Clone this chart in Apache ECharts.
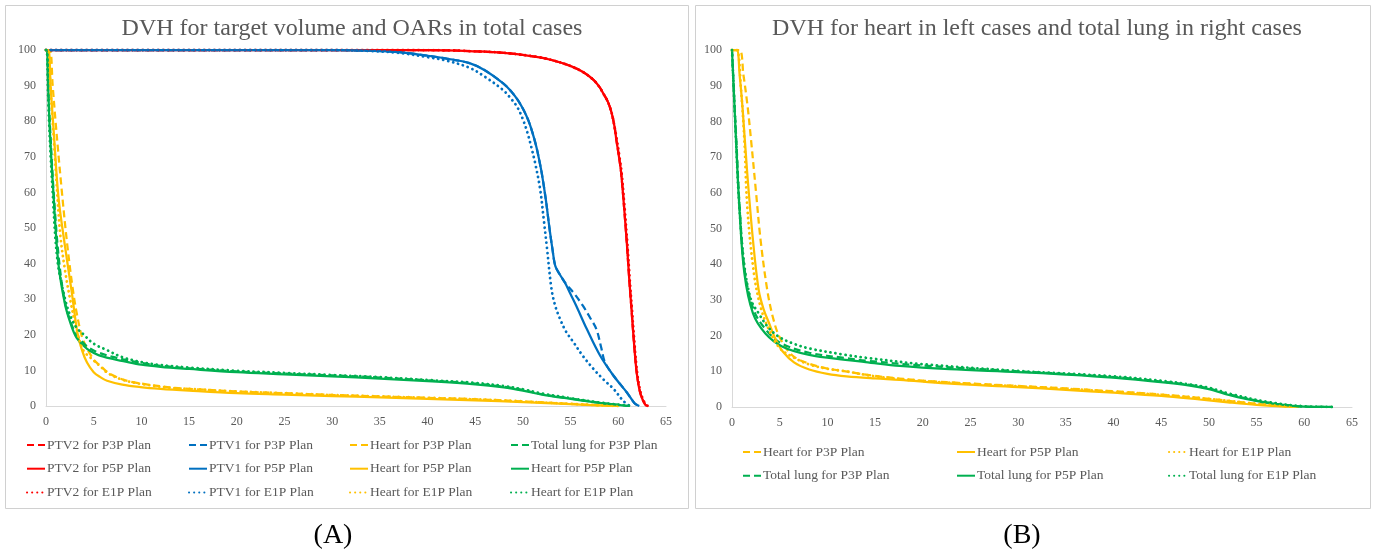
<!DOCTYPE html>
<html>
<head>
<meta charset="utf-8">
<script src="https://cdn.jsdelivr.net/npm/echarts@6/dist/echarts.min.js"></script>
<style>
html,body{margin:0;padding:0;background:#fff;}
#c{width:1375px;height:554px;}
</style>
</head>
<body>
<div id="c"></div>
<script>
// ---------- Tick labels ----------
var xTicks = [0,5,10,15,20,25,30,35,40,45,50,55,60,65];
var yTicks = [0,10,20,30,40,50,60,70,80,90,100];

// ---------- Panel A (dose Gy, volume %) ----------
var ptv2P5P_dose = [0,20,38,42,44.4,48,51.4,53,54.9,56.3,57.4,58,58.4,58.9,59.3,59.6,59.8,60.1,60.3,60.6,60.9,61.15,61.4,61.65,61.9,62.15,62.4,62.8,63];
var ptv2P5P_vol  = [100,100,100,99.9,99.7,99.2,98.1,97.2,95.6,93.8,91.6,89.7,87.9,85.5,82.3,78.5,74.7,69.5,65.4,56,45.5,35.5,26.5,17.5,10,5.5,2.8,0.5,0];
var ptv2P3P_dose = [0,20,38,42,44.4,48,51.4,53,54.9,56.3,57.4,58,58.4,58.9,59.3,59.6,59.8,60.1,60.3,60.6,60.9,61.15,61.4,61.65,61.9,62.15,62.4,62.8,63];
var ptv2P3P_vol  = [100,100,100,99.9,99.7,99.2,98.1,97.2,95.6,93.8,91.6,89.7,87.9,85.5,82.3,78.5,74.7,69.5,65.4,56,45.5,35.5,26.5,17.5,10,5.5,2.8,0.5,0];
var ptv2E1P_dose = [0,20,38,42,44.4,48,51.4,53,54.9,56.3,57.4,58,58.4,58.9,59.3,59.6,59.85,60.15,60.35,60.65,60.95,61.2,61.45,61.7,61.95,62.2,62.45,62.85,63.1];
var ptv2E1P_vol  = [100,100,100,99.9,99.7,99.2,98.1,97.2,95.6,93.8,91.6,89.7,87.9,85.5,82.3,78.5,74.7,69.5,65.4,56,45.5,35.5,26.5,17.5,10,5.5,2.8,0.5,0];

var ptv1P5P_dose = [0,30,34,37,40,42,44.4,46,47.9,48.8,49.5,50.1,50.6,51,51.4,51.7,52,52.4,52.8,53.1,53.4,53.9,54.4,55,55.6,56.7,58.1,59.5,60.9,61.7,62.2];
var ptv1P5P_vol  = [100,100,99.8,99.4,98.4,97.6,96.3,94.3,90.7,88.3,85.8,83,80,76.8,72.9,69.2,65,58,49.6,44,39.3,36.8,34.7,31.4,28.1,21.6,14.1,8.5,3.8,0.8,0];
var ptv1P3P_dose = [0,30,34,37,40,42,44.4,46,47.9,48.8,49.5,50.1,50.6,51,51.4,51.7,52,52.4,52.8,53.1,53.4,53.9,54.4,55.4,56.3,57,57.7,58.2,58.6,59.5,60.9,61.7,62.2];
var ptv1P3P_vol  = [100,100,99.8,99.4,98.4,97.6,96.3,94.3,90.7,88.3,85.8,83,80,76.8,72.9,69.2,65,58,49.6,44,39.3,36.8,34.7,31.5,28.1,25,21.6,16.5,12.3,8.5,3.8,0.8,0];
var ptv1E1P_dose = [0,30,34,37,40,42,44.4,46,47.9,48.7,49.4,50,50.5,50.9,51.3,51.8,52.2,52.5,53,53.4,53.9,54.5,55.3,56.3,57.4,58.5,59.5,60.5,61.2];
var ptv1E1P_vol  = [100,100,99.7,99.2,98,97,95,92.5,88.8,86.5,84,80.5,76.5,72.5,68,61,52,44.9,32.8,28,24.4,21,17.9,14,10.4,7.3,4.8,1.5,0];

var heartP3P_dose = [0,0.4,0.7,1.0,1.6,2.2,2.8,3.3,3.9,5,5.7,6.5,8.1,10,13.4,15,20,25,30,35,40,45,50,55,58,60];
var heartP3P_vol  = [100,100,90,80,62,46,33,25,18.5,13,11.3,9.4,7.4,6.3,5.1,4.8,4.1,3.6,3.1,2.7,2.3,1.9,1.3,0.6,0.2,0];
var heartP5P_dose = [0,0.25,0.5,0.8,1.3,2.0,2.7,3.3,3.8,4.3,5,5.7,6.4,8,9.9,12,15,20,25,30,35,40,45,50,55,58,60];
var heartP5P_vol  = [100,100,89,77.5,58.8,44.7,32,20.5,15.5,12.2,9.5,8.1,7.1,6,5.3,4.8,4.3,3.6,3.2,2.8,2.4,2.0,1.6,1.1,0.5,0.2,0];
var heartE1P_dose = [0,0.25,0.45,0.7,1.1,1.5,2.0,2.6,3.2,3.9,5,5.7,6.5,8.1,10,13.4,15,20,25,30,35,40,45,50,55,58,60];
var heartE1P_vol  = [100,100,90,80,63,48,38,29,21.5,15.7,12.8,11.1,9.2,7.3,6.2,5,4.8,4.1,3.6,3.1,2.7,2.3,1.9,1.3,0.6,0.2,0];

var lungP3P_dose = [0,0.1,0.25,0.45,0.85,1.4,2.0,2.6,3.2,4,4.6,5.5,7,8.1,10,12,15,20,25,30,35,40,45,48,50,52,55,58,60,61.2];
var lungP3P_vol  = [100,100,88,77,58,40,29,23.5,20,17.5,16.2,15,13.8,13.1,12.1,11.3,10.6,9.7,9.1,8.6,8,7.2,6.3,5.4,4.5,3.3,2.1,0.9,0.3,0];
var lungP5P_dose = [0,0.1,0.25,0.4,0.8,1.3,2.0,2.6,3.2,4,4.6,5.5,7,8.1,10,12,15,20,25,30,35,40,45,48,50,52,55,58,60,61];
var lungP5P_vol  = [100,100,88,77.5,58.8,40,28.5,23,19.2,16.8,15.5,14.3,13.2,12.6,11.6,11,10.4,9.5,8.9,8.3,7.7,7,6.1,5.2,4.3,3.2,2,0.9,0.3,0];
var lungE1P_dose = [0,0.08,0.2,0.35,0.7,1.2,2.0,2.6,3.2,3.9,5,6.4,8,9.9,12,15,20,25,30,35,40,45,48,50,52,55,58,60,61.5];
var lungE1P_vol  = [100,100,89,78,60,41,30,25,22,20.2,17.5,15.7,13.7,12.4,11.5,10.8,9.9,9.3,8.7,8.1,7.3,6.5,5.6,4.7,3.5,2.2,1,0.4,0];

// ---------- Panel B ----------
var bHeartP3P_dose = [0,0.8,1.2,1.6,2.0,2.5,3.0,3.7,4.3,5,6.3,8,9.8,11.9,15,20,25,30,35,40,45,50,55,58,59.5];
var bHeartP3P_vol  = [100,100,93,85,74.7,60.7,46.7,32.7,25,19.5,14.5,12.2,10.9,10,8.7,7.4,6.6,5.9,5.2,4.4,3.5,2.3,0.9,0.2,0];
var bHeartP5P_dose = [0,0.5,0.8,1.1,1.6,2.2,2.8,3.3,3.9,4.6,5.3,6.5,8.1,10,12,15,17.6,22.5,30,35,40,45,49,52,55,58.8];
var bHeartP5P_vol  = [100,100,93,84,65.4,46.7,32.7,27.5,23.4,18.8,15.6,12.5,10.5,9.3,8.6,8,7.6,6.6,5.6,4.8,4,3.1,2.1,1.3,0.6,0];
var bHeartE1P_dose = [0,0.5,0.95,1.3,1.6,2.3,3.0,3.9,5,6.3,8,9.8,11.9,15,20,25,30,35,40,45,50,55,59];
var bHeartE1P_vol  = [100,100,88.7,74.7,56.1,37.4,28,21.5,16.5,14.1,12,10.8,10,8.6,7.3,6.5,5.8,5.1,4.3,3.4,2.3,0.9,0];

var bLungP3P_dose = [0,0.05,0.2,0.45,0.8,1.35,2.3,3.6,5.2,8.1,11.9,14,20,30,40,45.5,48,50,52.2,56,59.5,63];
var bLungP3P_vol  = [100,100,88,75,56,38,27,21.5,17.8,15.2,13.7,13,11.6,10,8.4,7,6.2,5.2,3.5,1.3,0.2,0];
var bLungP5P_dose = [0,0.05,0.2,0.42,0.77,1.3,2.2,3.5,5.3,8.1,11.9,14,17.6,22.8,30,35,40,45.5,48,50,52.2,54,56,58,59.5,61,63];
var bLungP5P_vol  = [100,100,88,74.8,56.1,37.4,26.2,20.6,16.9,14.6,13.2,12.6,11.5,10.6,9.8,9.1,8.2,6.8,6,5,3.3,2.2,1.2,0.5,0.15,0.05,0];
var bLungE1P_dose = [0,0.05,0.2,0.4,0.75,1.3,2.0,2.8,3.8,4.9,6.4,8.1,11.9,14,20,30,40,45.5,48,50,52.2,56,59.5,63];
var bLungE1P_vol  = [100,100,88,76,57,39.5,30,26.2,22.3,19.7,17.8,16.4,14.6,13.8,12,10.1,8.6,7.2,6.3,5.4,3.7,1.5,0.3,0];

function pts(d, v){ var r=[]; for(var i=0;i<d.length;i++) r.push([d[i], v[i]]); return r; }

var RED='#FF0000', BLUE='#0070C0', YEL='#FFC000', GRN='#00B050';
var DASH=[7,4], DOT=[0.1,5];
var NB='\u00A0';

function s(name, color, kind, data, idx){
  var ls = {color:color, width:2.25};
  if(kind==='dash'){ ls.type = DASH; }
  else if(kind==='dot'){ ls.type = DOT; ls.cap = 'round'; ls.width = 2.8; }
  else { ls.type = 'solid'; }
  return {name:name, type:'line', xAxisIndex:idx, yAxisIndex:idx, data:data,
    showSymbol:false, symbol:'none', smooth:0.35,
    lineStyle:ls, itemStyle:{color:color}, emphasis:{disabled:true}, silent:true, animation:false};
}

var series = [
  s('PTV2 for P3P Plan', RED, 'dash', pts(ptv2P3P_dose, ptv2P3P_vol), 0),
  s('PTV1 for P3P Plan', BLUE, 'dash', pts(ptv1P3P_dose, ptv1P3P_vol), 0),
  s('Heart for P3P Plan', YEL, 'dash', pts(heartP3P_dose, heartP3P_vol), 0),
  s('Total lung for P3P Plan', GRN, 'dash', pts(lungP3P_dose, lungP3P_vol), 0),
  s('PTV2 for P5P Plan', RED, 'solid', pts(ptv2P5P_dose, ptv2P5P_vol), 0),
  s('PTV1 for P5P Plan', BLUE, 'solid', pts(ptv1P5P_dose, ptv1P5P_vol), 0),
  s('Heart for P5P Plan', YEL, 'solid', pts(heartP5P_dose, heartP5P_vol), 0),
  s('Heart for P5P Plan'+NB, GRN, 'solid', pts(lungP5P_dose, lungP5P_vol), 0),
  s('PTV2 for E1P Plan', RED, 'dot', pts(ptv2E1P_dose, ptv2E1P_vol), 0),
  s('PTV1 for E1P Plan', BLUE, 'dot', pts(ptv1E1P_dose, ptv1E1P_vol), 0),
  s('Heart for E1P Plan', YEL, 'dot', pts(heartE1P_dose, heartE1P_vol), 0),
  s('Heart for E1P Plan'+NB, GRN, 'dot', pts(lungE1P_dose, lungE1P_vol), 0),

  s('Heart for P3P Plan', YEL, 'dash', pts(bHeartP3P_dose, bHeartP3P_vol), 1),
  s('Total lung for P3P Plan', GRN, 'dash', pts(bLungP3P_dose, bLungP3P_vol), 1),
  s('Heart for P5P Plan', YEL, 'solid', pts(bHeartP5P_dose, bHeartP5P_vol), 1),
  s('Total lung for P5P Plan', GRN, 'solid', pts(bLungP5P_dose, bLungP5P_vol), 1),
  s('Heart for E1P Plan', YEL, 'dot', pts(bHeartE1P_dose, bHeartE1P_vol), 1),
  s('Total lung for E1P Plan', GRN, 'dot', pts(bLungE1P_dose, bLungE1P_vol), 1)
];

var FONT = '"Liberation Serif", "Times New Roman", serif';
var GREY = '#595959';
var AXC = '#D9D9D9';

function xAx(idx){
  return {type:'value', gridIndex:idx, min:xTicks[0], max:xTicks[xTicks.length-1], interval:xTicks[1]-xTicks[0],
    axisLine:{show:true, lineStyle:{color:AXC, width:1}}, axisTick:{show:false}, splitLine:{show:false},
    axisLabel:{color:GREY, fontFamily:FONT, fontSize:12, margin:10}};
}
function yAx(idx){
  return {type:'value', gridIndex:idx, min:yTicks[0], max:yTicks[yTicks.length-1], interval:yTicks[1]-yTicks[0],
    axisLine:{show:true, lineStyle:{color:AXC, width:1}}, axisTick:{show:false}, splitLine:{show:false},
    axisLabel:{color:GREY, fontFamily:FONT, fontSize:12, margin:10}};
}

function leg(names, left, top){
  return {data:names, orient:'vertical', left:left, top:top, itemWidth:18, itemHeight:14, itemGap:9.7,
    selectedMode:false, padding:0,
    itemStyle:{color:'rgba(0,0,0,0)', borderWidth:0, opacity:0},
    textStyle:{color:GREY, fontFamily:FONT, fontSize:13.5, padding:[0,0,0,-3]}};
}

var option = {
  backgroundColor:'#fff',
  animation:false,
  title:[
    {text:'DVH for target volume and OARs in total cases', left:347, top:12, textAlign:'center',
      textStyle:{color:GREY, fontFamily:FONT, fontSize:24, fontWeight:'normal'}},
    {text:'DVH for heart in left cases and total lung in right cases', left:1032, top:12, textAlign:'center',
      textStyle:{color:GREY, fontFamily:FONT, fontSize:24, fontWeight:'normal'}}
  ],
  grid:[
    {left:46, right:709, top:50, bottom:148},
    {left:732, right:23, top:50, bottom:147}
  ],
  xAxis:[xAx(0), xAx(1)],
  yAxis:[yAx(0), yAx(1)],
  legend:[
    leg(['PTV2 for P3P Plan','PTV2 for P5P Plan','PTV2 for E1P Plan'], 26, 438),
    leg(['PTV1 for P3P Plan','PTV1 for P5P Plan','PTV1 for E1P Plan'], 188, 438),
    leg(['Heart for P3P Plan','Heart for P5P Plan','Heart for E1P Plan'], 349, 438),
    leg(['Total lung for P3P Plan','Heart for P5P Plan'+NB,'Heart for E1P Plan'+NB], 510, 438),
    leg(['Heart for P3P Plan','Total lung for P3P Plan'], 742, 445),
    leg(['Heart for P5P Plan','Total lung for P5P Plan'], 956, 445),
    leg(['Heart for E1P Plan','Total lung for E1P Plan'], 1168, 445)
  ],
  graphic:[
    {type:'rect', shape:{x:5.5, y:5.5, width:683, height:503}, style:{fill:null, stroke:'#D0D0D0', lineWidth:1}, silent:true, z:-10},
    {type:'rect', shape:{x:695.5, y:5.5, width:675, height:503}, style:{fill:null, stroke:'#D0D0D0', lineWidth:1}, silent:true, z:-10},
    {type:'text', x:333, y:536, style:{text:'(A)', fill:'#000', font:'28px "Liberation Serif", serif', textAlign:'center', textVerticalAlign:'middle'}, silent:true},
    {type:'text', x:1022, y:536, style:{text:'(B)', fill:'#000', font:'28px "Liberation Serif", serif', textAlign:'center', textVerticalAlign:'middle'}, silent:true}
  ],
  series:series
};

var chart = echarts.init(document.getElementById('c'), null, {renderer:'canvas'});
chart.setOption(option);
</script>
</body>
</html>
